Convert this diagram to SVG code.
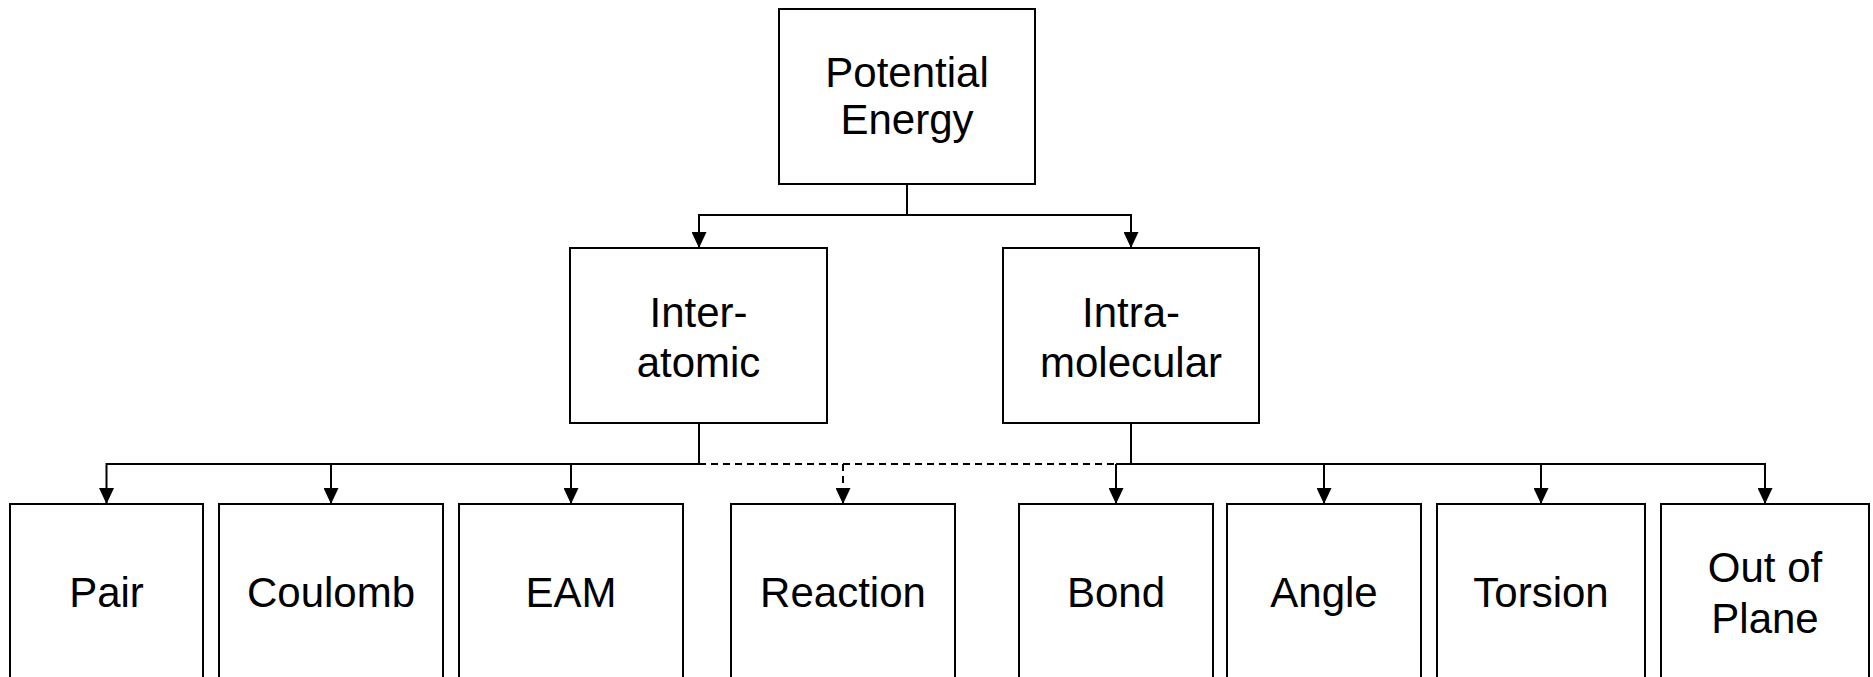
<svg xmlns="http://www.w3.org/2000/svg" width="1873" height="677" viewBox="0 0 1873 677">
<defs>
<marker id="arr" viewBox="0 0 16 15" refX="16" refY="7.5" markerWidth="16" markerHeight="15" markerUnits="userSpaceOnUse" orient="auto">
<path d="M0,0 L16,7.5 L0,15 Z" fill="#000"/>
</marker>
<style>
.box{fill:#fff;stroke:#000;stroke-width:2}
.lbl{font-family:"Liberation Sans",Arial,sans-serif;font-size:42px;fill:#000;text-anchor:middle}
.ln{fill:none;stroke:#000;stroke-width:2}
.dash{fill:none;stroke:#000;stroke-width:2;stroke-dasharray:7 5}
</style>
</defs>
<rect width="1873" height="677" fill="#fff"/>
<g id="connectors">
<path class="ln" d="M907,184 V215"/>
<path class="ln" d="M907,215 H699 V248" marker-end="url(#arr)"/>
<path class="ln" d="M907,215 H1131 V248" marker-end="url(#arr)"/>
<path class="ln" d="M699,423 V464"/>
<path class="ln" d="M699,464 H106.5 V504" marker-end="url(#arr)"/>
<path class="ln" d="M331,464 V504" marker-end="url(#arr)"/>
<path class="ln" d="M571,464 V504" marker-end="url(#arr)"/>
<path class="dash" d="M699,464 H1116"/>
<path class="dash" d="M843,464 V504" marker-end="url(#arr)"/>
<path class="ln" d="M1131,423 V464"/>
<path class="ln" d="M1116,464 H1765 V504" marker-end="url(#arr)"/>
<path class="ln" d="M1116,464 V504" marker-end="url(#arr)"/>
<path class="ln" d="M1324,464 V504" marker-end="url(#arr)"/>
<path class="ln" d="M1541,464 V504" marker-end="url(#arr)"/>
</g>
<g id="n-potential"><rect class="box" x="779" y="9" width="256" height="175"/><text class="lbl" x="907" y="87">Potential</text><text class="lbl" x="907" y="134">Energy</text></g>
<g id="n-inter"><rect class="box" x="570" y="248" width="257" height="175"/><text class="lbl" x="698.5" y="327">Inter-</text><text class="lbl" x="698.5" y="377">atomic</text></g>
<g id="n-intra"><rect class="box" x="1003" y="248" width="256" height="175"/><text class="lbl" x="1131" y="327">Intra-</text><text class="lbl" x="1131" y="377">molecular</text></g>
<g id="n-pair"><rect class="box" x="10" y="504" width="193" height="190"/><text class="lbl" x="106.5" y="607">Pair</text></g>
<g id="n-coulomb"><rect class="box" x="219" y="504" width="224" height="190"/><text class="lbl" x="331" y="607">Coulomb</text></g>
<g id="n-eam"><rect class="box" x="459" y="504" width="224" height="190"/><text class="lbl" x="571" y="607">EAM</text></g>
<g id="n-reaction"><rect class="box" x="731" y="504" width="224" height="190"/><text class="lbl" x="843" y="607">Reaction</text></g>
<g id="n-bond"><rect class="box" x="1019" y="504" width="194" height="190"/><text class="lbl" x="1116" y="607">Bond</text></g>
<g id="n-angle"><rect class="box" x="1227" y="504" width="194" height="190"/><text class="lbl" x="1324" y="607">Angle</text></g>
<g id="n-torsion"><rect class="box" x="1437" y="504" width="208" height="190"/><text class="lbl" x="1541" y="607">Torsion</text></g>
<g id="n-outofplane"><rect class="box" x="1661" y="504" width="208" height="190"/><text class="lbl" x="1765" y="582">Out of</text><text class="lbl" x="1765" y="633">Plane</text></g>
</svg>
